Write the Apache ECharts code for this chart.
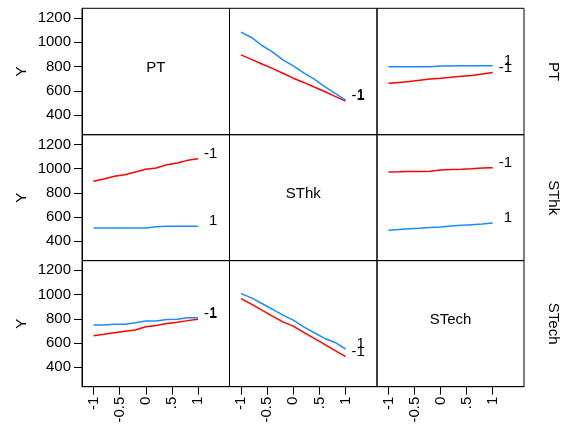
<!DOCTYPE html>
<html style="height: 100%;margin: 0;padding: 0;">
<head>
<meta charset="utf-8">
<title>Interaction Profiles</title>
<script src="https://cdn.jsdelivr.net/npm/echarts@6/dist/echarts.min.js"></script>
</head>
<body style="margin:0;padding:0;background:#fff;">
<div id="main" style="width:568px;height:427px;"></div>
<script type="text/javascript">
// factors (rows = factor whose levels make the lines, columns = x factor)
var factors = ['PT', 'SThk', 'STech'];
var levelLabels = ['-1', '1'];
var xs = [-1, -0.8, -0.6, -0.4, -0.2, 0, 0.2, 0.4, 0.6, 0.8, 1];
var xTickValues = [-1, -0.5, 0, 0.5, 1];
var xTickLabels = ['-1', '-0.5', '0', '.5', '1'];
var yTickValues = [400, 600, 800, 1000, 1200];

// row PT, x = SThk
var ptBySThkLo = [897, 860, 822, 786, 746, 705, 670, 632, 595, 555, 516];
var ptBySThkHi = [1084, 1040, 974, 922, 856, 806, 748, 697, 636, 580, 525];
// row PT, x = STech
var ptBySTechLo = [663, 670, 677, 688, 698, 704, 712, 721, 727, 739, 751];
var ptBySTechHi = [800, 800, 800, 800, 800, 806, 806, 807, 807, 808, 808];
// row SThk, x = PT
var sthkByPTLo = [895, 914, 936, 950, 972, 994, 1005, 1032, 1046, 1068, 1082];
var sthkByPTHi = [510, 510, 510, 510, 510, 510, 520, 524, 524, 524, 524];
// row SThk, x = STech
var sthkBySTechLo = [972, 973, 975, 977, 979, 988, 992, 995, 999, 1004, 1008];
var sthkBySTechHi = [491, 496, 503, 508, 514, 518, 525, 531, 537, 542, 551];
// row STech, x = PT
var stechByPTLo = [660, 672, 685, 697, 707, 734, 745, 762, 772, 785, 797];
var stechByPTHi = [748, 748, 756, 756, 767, 781, 781, 794, 796, 808, 808];
// row STech, x = SThk
var stechBySThkLo = [967, 921, 871, 822, 775, 740, 688, 638, 589, 537, 488];
var stechBySThkHi = [1008, 973, 926, 879, 830, 789, 734, 685, 638, 605, 551];

var panels = [
	{row: 0, col: 1, lo: ptBySThkLo, hi: ptBySThkHi},
	{row: 0, col: 2, lo: ptBySTechLo, hi: ptBySTechHi},
	{row: 1, col: 0, lo: sthkByPTLo, hi: sthkByPTHi},
	{row: 1, col: 2, lo: sthkBySTechLo, hi: sthkBySTechHi},
	{row: 2, col: 0, lo: stechByPTLo, hi: stechByPTHi},
	{row: 2, col: 1, lo: stechBySThkLo, hi: stechBySThkHi}
];

var font = "'Liberation Sans', Arial, sans-serif";
var colLeft = [82, 229.5, 377], colWidth = [147.5, 147.5, 147];
var rowTop = [8.3, 134.7, 260.6], rowHeight = [126.4, 125.9, 126.1];

var grids = [], xAxes = [], yAxes = [], series = [], graphics = [];
for (var r = 0; r < 3; r++) {
	for (var c = 0; c < 3; c++) {
		var idx = r * 3 + c;
		grids.push({
			left: colLeft[c], top: rowTop[r], width: colWidth[c], height: rowHeight[r],
			show: true, borderColor: '#000', borderWidth: 1, backgroundColor: 'transparent',
			containLabel: false, outerBoundsMode: 'none'
		});
		var bottomRow = (r == 2), leftCol = (c == 0);
		xAxes.push({
			type: 'value', gridIndex: idx, min: -1.22, max: 1.6,
			axisLine: {show: bottomRow, onZero: false, lineStyle: {color: '#000', width: 1}},
			axisTick: {show: bottomRow, length: 8, customValues: xTickValues, lineStyle: {color: '#000', width: 1}},
			axisLabel: {
				show: bottomRow, customValues: xTickValues, rotate: 90, margin: 10,
				color: '#000', fontSize: 15, fontFamily: font,
				formatter: function (v) { return xTickLabels[xTickValues.indexOf(v)]; }
			},
			splitLine: {show: false}
		});
		yAxes.push({
			type: 'value', gridIndex: idx, min: 240, max: 1280,
			name: leftCol ? 'Y' : '', nameLocation: 'middle', nameGap: 53,
			nameTextStyle: {color: '#000', fontSize: 15, fontFamily: font},
			axisLine: {show: leftCol, onZero: false, lineStyle: {color: '#000', width: 1}},
			axisTick: {show: leftCol, length: 8, customValues: yTickValues, lineStyle: {color: '#000', width: 1}},
			axisLabel: {
				show: leftCol, customValues: yTickValues, margin: 11,
				color: '#000', fontSize: 15, fontFamily: font,
				formatter: function (v) { return String(v); }
			},
			splitLine: {show: false}
		});
		if (r == c) {
			graphics.push({
				type: 'text', x: colLeft[c] + colWidth[c] / 2, y: rowTop[r] + rowHeight[r] / 2 - 4,
				style: {text: factors[r], fill: '#000', font: '15px ' + font, align: 'center', verticalAlign: 'middle'}
			});
		}
	}
	graphics.push({
		type: 'text', x: 553, y: rowTop[r] + rowHeight[r] / 2, rotation: -Math.PI / 2,
		style: {text: factors[r], fill: '#000', font: '15px ' + font, align: 'center', verticalAlign: 'middle'}
	});
}

function mkSeries(p, vals, color, label, dist) {
	return {
		type: 'line', xAxisIndex: p.row * 3 + p.col, yAxisIndex: p.row * 3 + p.col,
		data: xs.map(function (x, i) { return [x, vals[i]]; }),
		showSymbol: false, symbol: 'none', silent: true,
		lineStyle: {color: color, width: 1.5},
		itemStyle: {color: color},
		endLabel: {
			show: true, formatter: label, distance: dist, offset: [0, -5],
			color: '#000', fontSize: 15, fontFamily: font
		}
	};
}
panels.forEach(function (p) {
	series.push(mkSeries(p, p.lo, '#ff0000', levelLabels[0], 6));
	series.push(mkSeries(p, p.hi, '#1a8cff', levelLabels[1], 11));
});

var myChart = echarts.init(document.getElementById('main'), null, {renderer: 'canvas'});
myChart.setOption({
	animation: false,
	backgroundColor: '#fff',
	grid: grids,
	xAxis: xAxes,
	yAxis: yAxes,
	series: series,
	graphic: graphics
});
</script>
</body>
</html>
